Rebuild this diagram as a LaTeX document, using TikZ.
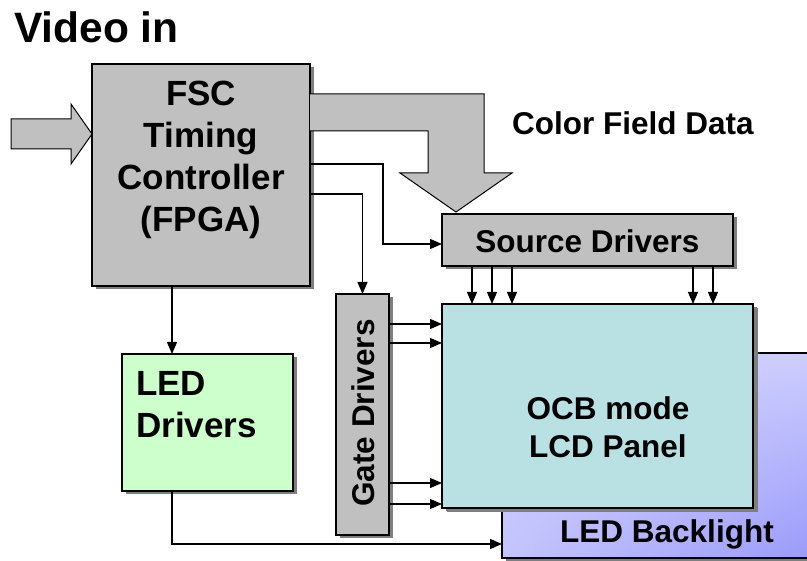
\documentclass[tikz,border=0pt]{standalone}
\usepackage{fontspec}
\setmainfont{Liberation Sans}
\usetikzlibrary{arrows.meta,shadows,calc,shadings}
\definecolor{boxgray}{HTML}{C0C0C0}
\definecolor{ledgreen}{HTML}{CCFFCC}
\definecolor{panelcyan}{HTML}{B9E0E3}
\definecolor{blA}{HTML}{D6D6FF}
\definecolor{blB}{HTML}{9A9AFA}
\definecolor{shadowgray}{HTML}{7F7F7F}
\tikzset{
  blk/.style={draw=black,line width=1.2pt,inner sep=0pt,outer sep=0pt,
    drop shadow={shadow xshift=3.5pt,shadow yshift=-3.5pt,fill=shadowgray,opacity=1}},
  conn/.style={draw=black,line width=1.2pt,-{Triangle[length=12pt,width=10pt]}},
  bigarrow/.style={draw=black,line width=1pt,fill=boxgray},
  lbl/.style={font=\bfseries\fontsize{31.5}{38}\selectfont,inner sep=0pt},
  biglbl/.style={font=\bfseries\fontsize{35}{42}\selectfont,inner sep=0pt}
}
\begin{document}
\begin{tikzpicture}[x=1pt,y=-1pt]
\useasboundingbox (0,0) rectangle (807,561);
% title
\node[font=\bfseries\fontsize{42.5}{48}\selectfont,anchor=base west,inner sep=0pt] (title) at (14,43) {Video in};
% input arrow
\draw[bigarrow] (11,119) -- (71,119) -- (71,104) -- (92,134) -- (71,164) -- (71,149) -- (11,149) -- cycle;
% backlight
\node[blk,minimum width=313pt,minimum height=205pt,
  upper left=blA,upper right=blA!85!blB,lower left=blA!70!blB,lower right=blB] (bl) at (658.5,455.5) {};
\node[lbl] (bltext) at (667,534) {LED Backlight};
% panel
\node[blk,fill=panelcyan,minimum width=311pt,minimum height=204pt,
  drop shadow={shadow xshift=4.5pt,shadow yshift=-4.5pt,fill=shadowgray,opacity=1}] (panel) at (597.5,406) {};
\node[lbl,align=center] (paneltext) at (608,427) {OCB mode\\LCD Panel};
% FSC
\node[blk,fill=boxgray,minimum width=218pt,minimum height=222pt] (fsc) at (201,175) {};
\node[biglbl,align=center] (fsctext) at (201,160) {FSC\\Timing\\Controller\\(FPGA)};
% big color field arrow
\draw[bigarrow] (310,94) -- (484,94) -- (484,173) -- (512,173) -- (456,212) -- (400,173) -- (428,173) -- (428,131) -- (310,131);
\node[lbl,anchor=base west] (cfd) at (512,135) {Color Field Data};
% source drivers
\node[blk,fill=boxgray,minimum width=291pt,minimum height=52pt] (src) at (587.5,240) {};
\node[lbl] (srctext) at (587.5,241) {Source Drivers};
% gate drivers
\node[blk,fill=boxgray,minimum width=53pt,minimum height=241pt] (gate) at (362.5,414.5) {};
\node[lbl,rotate=90] (gatetext) at (363,413) {Gate Drivers};
% LED drivers
\node[blk,fill=ledgreen,minimum width=171pt,minimum height=137pt] (led) at (207.5,422.5) {};
\node[biglbl,align=left,anchor=west] (ledtext) at (136,405) {LED\\Drivers};
% connectors
\coordinate (o1) at (310,164);
\coordinate (o2) at (310,194);
\coordinate (o3) at (172,286);
\coordinate (o4) at (172,491);
\draw[conn] (o1) -- ++(73,0) |- ([yshift=-4pt]src.west);
\draw[conn] (o2) -| (gate.north);
\draw[conn] (o3) -- (o3 |- led.north);
\draw[conn] (o4) |- ([yshift=-88.5pt]bl.west);
\foreach \dx in {30,50,70,251,271}{
  \path ($(src.south west)+(\dx,0)$) coordinate (sa);
  \path ($(panel.north west)+(\dx,0)$) coordinate (sb);
  \draw[conn] (sa) -- (sb);
}
\foreach \dy in {30,49,189,210}{
  \path ($(gate.north east)+(0,\dy)$) coordinate (g);
  \draw[conn] (g) -- (g -| panel.west);
}
\end{tikzpicture}
\end{document}
